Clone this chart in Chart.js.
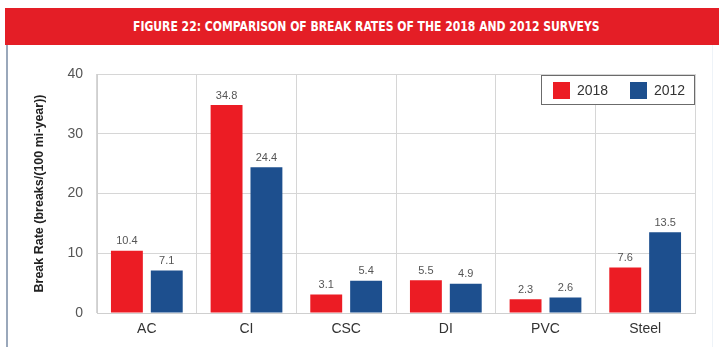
<!DOCTYPE html>
<html>
<head>
<meta charset="utf-8">
<script src="https://cdn.jsdelivr.net/npm/chart.js@4.4.1/dist/chart.umd.min.js"></script>
<style>
  body { margin: 0; background: #ffffff; }
  #wrap { position: relative; width: 719px; height: 347px; overflow: hidden; }
  #banner {
    position: absolute; left: 5px; top: 8px; width: 714px; height: 37px;
    background: #e41e26; color: #ffffff; text-align: center;
  }
  #banner span {
    display: inline-block;
    font-family: "Liberation Sans Narrow", "DejaVu Sans Condensed", sans-serif;
    font-weight: bold; font-size: 14px; line-height: 37px;
    transform: scaleX(0.86); transform-origin: center; margin-left: 8px;
    white-space: nowrap;
  }
  #edge { position: absolute; left: 6px; top: 45px; width: 2px; height: 302px; background: #9aa8bb; }
  #edgeR { position: absolute; left: 712px; top: 45px; width: 1px; height: 302px; background: #eef3f8; }
  canvas { position: absolute; left: 0; top: 0; }
</style>
</head>
<body>
<div id="wrap">
  <canvas id="grafico" width="719" height="347"></canvas>
  <div id="banner"><span>FIGURE 22: COMPARISON OF BREAK RATES OF THE 2018 AND 2012 SURVEYS</span></div>
  <div id="edge"></div>
  <div id="edgeR"></div>
</div>
<script>
const categorias = ["AC", "CI", "CSC", "DI", "PVC", "Steel"];
const series2018 = [10.4, 34.8, 3.1, 5.5, 2.3, 7.6];
const series2012 = [7.1, 24.4, 5.4, 4.9, 2.6, 13.5];
const etiquetasSeries = ["2018", "2012"];
const ticksY = [0, 10, 20, 30, 40];

const colorRojo = "#ec1c24";
const colorAzul = "#1d4f8e";

// valores encima de cada barra
const valoresPlugin = {
  id: "valores",
  afterDatasetsDraw(chart) {
    const ctx = chart.ctx;
    ctx.save();
    ctx.font = "11px 'Liberation Sans', Arial, sans-serif";
    ctx.fillStyle = "#555555";
    ctx.textAlign = "center";
    ctx.textBaseline = "bottom";
    chart.data.datasets.forEach((ds, i) => {
      chart.getDatasetMeta(i).data.forEach((bar, j) => {
        ctx.fillText(ds.data[j].toFixed(1), bar.x, bar.y - 4);
      });
    });
    ctx.restore();
  }
};

// leyenda con recuadro, arriba a la derecha dentro del area
const leyendaPlugin = {
  id: "leyenda",
  afterDraw(chart) {
    const ctx = chart.ctx;
    const area = chart.chartArea;
    const ancho = 154, alto = 30;
    const x0 = area.right - ancho, y0 = area.top + 1;
    ctx.save();
    ctx.fillStyle = "#ffffff";
    ctx.fillRect(x0, y0, ancho, alto);
    ctx.strokeStyle = "#6b6b6b";
    ctx.lineWidth = 1;
    ctx.strokeRect(x0 + 0.5, y0 + 0.5, ancho - 1, alto - 1);
    ctx.font = "14px 'Liberation Sans', Arial, sans-serif";
    ctx.textBaseline = "middle";
    ctx.textAlign = "left";
    const offsets = [12, 89];
    chart.data.datasets.forEach((ds, i) => {
      const bx = x0 + offsets[i];
      ctx.fillStyle = ds.backgroundColor;
      ctx.fillRect(bx, y0 + 7, 17, 17);
      ctx.fillStyle = "#333333";
      ctx.fillText(ds.label, bx + 24, y0 + 16);
    });
    ctx.restore();
  }
};

new Chart(document.getElementById("grafico"), {
  type: "bar",
  data: {
    labels: categorias,
    datasets: [
      { label: etiquetasSeries[0], data: series2018, backgroundColor: colorRojo },
      { label: etiquetasSeries[1], data: series2012, backgroundColor: colorAzul }
    ]
  },
  options: {
    responsive: false,
    animation: false,
    layout: { padding: { left: 28, right: 24, top: 74, bottom: 0 } },
    categoryPercentage: 0.8,
    barPercentage: 0.8,
    plugins: {
      legend: { display: false },
      tooltip: { enabled: false }
    },
    scales: {
      x: {
        grid: { color: "#d6d6d6", drawTicks: false, offset: true },
        border: { color: "#cfcfcf" },
        ticks: {
          color: "#333333",
          padding: 8,
          font: { size: 14, family: "'Liberation Sans', Arial, sans-serif" }
        },
        afterFit: s => { s.height = 34; }
      },
      y: {
        min: 0,
        max: 40,
        afterBuildTicks: s => { s.ticks = ticksY.map(v => ({ value: v })); },
        grid: { color: "#d6d6d6", drawTicks: false },
        border: { color: "#cfcfcf" },
        ticks: {
          color: "#555555",
          padding: 14,
          font: { size: 14, family: "'Liberation Sans', Arial, sans-serif" }
        },
        title: {
          display: true,
          text: "Break Rate (breaks/(100 mi-year))",
          color: "#222222",
          padding: { top: 4, bottom: 4 },
          font: { size: 12.5, weight: "bold", family: "'Liberation Sans', Arial, sans-serif" }
        },
        afterFit: s => { s.width = 69; }
      }
    }
  },
  plugins: [valoresPlugin, leyendaPlugin]
});
</script>
</body>
</html>
